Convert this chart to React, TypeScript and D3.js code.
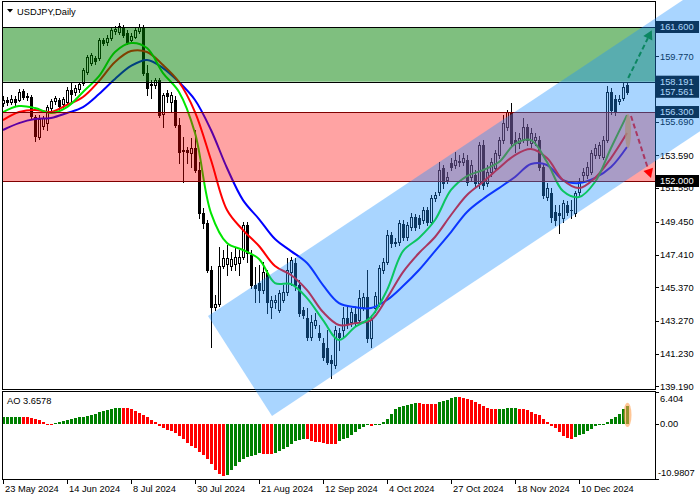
import React from "react";
import * as d3 from "d3";

const W = 700;
const H = 500;

// daily bars from 23 May 2024: open, high, low, close
const candles: [number, number, number, number][] = [
  [156.86, 157.30, 156.67, 157.05], [157.05, 157.24, 156.74, 156.92], [156.92, 157.36, 156.80, 157.11],
  [157.11, 157.30, 156.74, 156.92], [157.05, 157.73, 156.99, 157.55], [157.61, 157.73, 157.11, 157.24],
  [157.24, 157.49, 157.05, 157.30], [157.24, 157.36, 155.93, 156.05], [155.99, 156.11, 154.49, 154.80],
  [154.74, 156.11, 154.62, 155.86], [155.43, 156.05, 155.24, 155.93], [155.61, 156.74, 155.18, 156.61],
  [156.55, 157.11, 156.36, 156.99], [156.99, 157.30, 156.80, 157.17], [157.05, 157.17, 156.43, 156.67],
  [156.80, 157.24, 156.61, 157.11], [156.92, 157.86, 156.80, 157.67], [157.67, 158.17, 156.86, 157.42],
  [157.55, 157.98, 157.36, 157.80], [157.73, 158.17, 157.55, 158.05], [158.11, 159.04, 157.98, 158.92],
  [158.79, 159.85, 158.67, 159.73], [159.36, 159.98, 159.23, 159.85], [159.67, 159.79, 159.29, 159.48],
  [159.67, 160.91, 159.54, 160.79], [160.79, 160.91, 160.48, 160.60], [160.66, 161.10, 160.48, 160.91],
  [160.91, 161.60, 160.79, 161.41], [161.35, 161.66, 161.16, 161.47], [161.29, 161.85, 161.16, 161.66],
  [161.60, 161.72, 160.98, 161.10], [161.23, 161.41, 160.54, 160.66], [160.79, 161.23, 160.73, 161.04],
  [160.98, 161.54, 160.91, 161.41], [161.35, 161.79, 161.23, 161.60], [161.60, 161.72, 158.61, 158.73],
  [158.73, 159.23, 157.36, 157.80], [157.98, 158.30, 157.17, 158.05], [157.98, 158.42, 157.80, 158.30],
  [158.30, 158.42, 155.99, 156.11], [156.18, 157.49, 155.37, 157.36], [157.49, 157.67, 156.92, 157.30],
  [156.92, 157.55, 156.30, 157.36], [157.05, 157.30, 155.37, 155.49], [155.49, 155.93, 153.12, 153.81],
  [153.87, 154.74, 151.94, 153.93], [153.93, 154.12, 153.12, 153.81], [153.74, 154.68, 152.87, 154.06],
  [154.06, 155.18, 152.56, 152.68], [152.68, 153.18, 149.69, 150.00], [150.00, 150.32, 149.07, 149.38],
  [149.38, 149.57, 146.32, 146.45], [146.45, 146.70, 141.65, 144.14], [144.14, 144.89, 143.96, 144.33],
  [144.33, 147.88, 144.20, 146.70], [146.70, 147.70, 146.57, 147.20], [146.82, 148.01, 146.14, 147.20],
  [146.70, 147.57, 146.45, 147.14], [146.82, 147.82, 146.45, 147.26], [146.89, 147.70, 146.14, 147.26],
  [147.26, 149.44, 147.14, 149.26], [149.26, 149.44, 146.95, 147.51], [147.39, 147.70, 145.33, 145.51],
  [145.51, 146.64, 144.45, 145.33], [145.64, 146.76, 144.45, 145.20], [145.20, 146.95, 145.01, 146.32],
  [146.26, 146.45, 143.77, 144.45], [144.14, 144.83, 143.46, 144.58], [144.45, 144.89, 144.08, 144.58],
  [143.96, 145.20, 143.83, 145.01], [144.58, 145.51, 144.45, 145.08], [145.08, 147.20, 144.89, 146.45],
  [146.32, 147.26, 145.51, 147.07], [146.89, 147.20, 145.20, 145.51], [145.51, 145.83, 143.58, 143.77],
  [143.96, 144.14, 143.46, 143.64], [143.46, 144.08, 142.09, 142.27], [142.27, 143.64, 142.09, 143.21],
  [143.02, 143.77, 142.83, 143.33], [142.52, 143.02, 142.09, 142.27], [141.90, 142.21, 140.84, 141.03],
  [141.59, 142.71, 140.59, 140.72], [140.84, 141.15, 139.72, 140.65], [140.53, 142.96, 140.34, 142.71],
  [142.52, 142.83, 141.46, 142.27], [142.71, 144.14, 142.27, 143.46], [143.46, 144.27, 142.83, 143.14],
  [143.21, 144.08, 142.96, 143.83], [143.71, 144.08, 142.96, 143.21], [143.33, 145.20, 143.14, 144.70],
  [144.14, 145.01, 143.96, 144.77], [144.77, 146.45, 141.96, 142.21], [142.21, 143.64, 141.65, 143.33],
  [144.08, 145.08, 143.83, 144.83], [144.39, 146.76, 144.20, 146.57], [146.45, 147.20, 146.26, 146.95],
  [146.95, 148.94, 146.82, 148.63], [148.63, 148.82, 147.88, 148.13], [148.13, 148.45, 147.95, 148.20],
  [148.20, 149.57, 148.01, 149.38], [149.32, 149.57, 148.32, 148.51], [148.51, 149.44, 148.32, 149.26],
  [149.13, 150.00, 148.94, 149.75], [149.75, 149.94, 148.94, 149.13], [149.69, 149.88, 149.07, 149.32],
  [149.57, 150.38, 149.38, 150.19], [150.19, 150.38, 149.26, 149.44], [149.44, 151.13, 149.32, 150.94],
  [150.94, 151.31, 150.75, 151.13], [151.31, 153.18, 151.13, 152.68], [152.81, 153.00, 151.56, 151.87],
  [152.06, 152.56, 151.87, 152.25], [153.12, 153.43, 152.68, 152.87], [153.00, 153.81, 152.81, 153.31],
  [153.25, 153.62, 152.93, 153.18], [153.18, 153.74, 153.00, 153.43], [153.31, 153.62, 151.75, 151.94],
  [152.25, 153.31, 152.06, 153.00], [152.37, 152.68, 151.62, 151.87], [151.87, 154.43, 151.56, 154.24],
  [154.24, 154.55, 151.50, 151.75], [151.87, 153.00, 151.69, 152.56], [152.56, 153.43, 152.31, 153.18],
  [152.81, 153.93, 152.62, 153.74], [153.62, 154.74, 153.43, 154.55], [154.55, 156.11, 154.37, 155.61],
  [155.37, 156.43, 155.18, 156.30], [156.30, 156.86, 154.18, 154.37], [154.55, 155.05, 153.81, 154.37],
  [154.37, 154.99, 154.06, 154.68], [154.55, 155.93, 154.43, 155.37], [155.37, 155.55, 154.24, 154.55],
  [154.37, 155.30, 154.12, 154.99], [154.55, 154.99, 154.24, 154.74], [154.55, 154.80, 152.68, 152.87],
  [152.87, 153.12, 150.94, 151.13], [151.00, 151.87, 150.81, 151.56], [151.25, 151.56, 149.44, 149.75],
  [150.07, 150.50, 149.26, 149.57], [150.00, 150.50, 148.76, 149.88], [149.69, 150.81, 149.44, 150.63],
  [150.50, 150.75, 149.88, 150.07], [150.19, 150.81, 149.69, 150.19], [150.00, 151.37, 149.82, 151.25],
  [151.31, 152.19, 151.13, 151.94], [152.37, 152.81, 152.06, 152.56], [152.37, 153.18, 152.19, 152.87],
  [152.56, 153.93, 152.44, 153.74], [153.62, 154.31, 153.43, 154.06], [153.62, 154.43, 153.43, 154.24],
  [153.50, 154.80, 153.37, 154.55], [154.55, 157.92, 154.43, 157.55], [157.55, 157.80, 156.18, 156.43],
  [157.11, 157.36, 156.11, 156.30], [156.99, 157.36, 156.80, 157.11], [157.17, 158.17, 157.05, 157.86],
  [157.98, 158.11, 157.42, 157.55],
];

// Awesome Oscillator, one value per bar
const aoValues = [
  1.40, 1.42, 1.44, 1.46, 1.50, 1.45, 1.38, 1.25, 1.05, 0.80, 0.50, 0.05, -0.05,
  0.30, 0.45, 0.60, 0.80, 1.00, 1.20, 1.35, 1.50, 1.65, 1.85, 2.10, 2.35, 2.60, 2.85, 3.05, 3.25, 3.30,
  3.28, 3.20, 2.95, 2.65, 2.30, 1.85, 1.35, 0.80, 0.35, -0.30, -0.70, -1.10, -1.40, -1.80, -2.40, -3.00,
  -3.70, -4.30, -4.80, -5.50, -6.20, -7.00, -8.00, -9.20, -10.00, -10.40,
  -10.20, -9.20, -8.30, -7.60, -7.00, -6.60, -6.30, -6.10, -5.80,
  -5.90, -6.00, -6.05,
  -5.80, -5.40, -5.00, -4.50, -3.90, -3.40, -3.10, -2.90,
  -3.00, -3.30, -3.50, -3.60, -3.85, -3.90, -3.95, -4.00,
  -3.40, -3.00, -2.70, -2.20, -1.50, -0.90, -0.50, -0.20,
  -0.30,
  -0.15, 0.10, 0.50, 1.10, 2.10, 3.00, 3.50, 3.70, 3.90, 4.00, 4.15,
  4.12, 4.10, 4.08, 4.05, 4.00,
  4.50, 4.60, 4.80, 5.20, 5.50,
  5.40, 5.30, 5.10, 4.80, 4.50, 4.10, 3.70, 3.30, 3.10, 3.00,
  3.05, 3.10, 3.15, 3.20, 3.25,
  3.10, 3.00, 2.80, 2.50, 2.10, 1.80, 1.10, 0.50, -0.30, -0.70, -1.50, -2.30, -2.70, -2.90,
  -2.50, -2.20, -1.90, -1.30, -0.90, -0.40, -0.10, 0.10, 0.50, 1.00, 1.50, 2.10, 3.00, 3.6578,
];

// moving averages read every 4th bar
const maBars = [
  0, 4, 8, 12, 16, 20, 24, 28, 32, 36, 40, 44, 48, 52, 56, 60, 64, 68, 72, 76,
  80, 84, 88, 92, 96, 100, 104, 108, 112, 116, 120, 124, 128, 132, 136, 140, 144, 148, 152, 156,
];
const maFast = [
  156.30, 156.67, 156.55, 156.24, 156.61, 157.55, 158.54, 160.04, 160.60, 160.29,
  158.73, 157.55, 154.99, 150.00, 148.13, 147.70, 147.14, 145.64, 145.58, 144.70,
  143.33, 142.09, 142.90, 143.52, 145.20, 147.63, 148.45, 149.57, 151.44, 152.31,
  152.68, 153.18, 154.31, 154.55, 153.18, 151.37, 151.00, 151.94, 154.06, 156.11,
];
const maMid = [
  155.80, 156.30, 156.43, 156.30, 156.74, 157.24, 158.23, 159.42, 160.10, 160.04,
  159.23, 158.17, 156.30, 153.31, 150.19, 148.94, 147.95, 146.70, 146.14, 145.20,
  143.83, 143.02, 143.14, 143.33, 144.70, 146.32, 147.51, 148.51, 149.88, 151.13,
  151.94, 152.81, 153.62, 153.99, 153.43, 152.06, 151.56, 152.19, 153.43, 154.99,
];
const maSlow = [
  155.18, 155.61, 155.86, 155.93, 156.24, 156.61, 157.42, 158.36, 159.17, 159.54,
  159.04, 158.17, 157.05, 155.18, 152.81, 150.81, 149.63, 148.38, 147.63, 146.89,
  145.51, 144.39, 144.14, 144.08, 144.58, 145.45, 146.45, 147.63, 148.82, 150.07,
  150.88, 151.56, 152.25, 153.06, 153.00, 152.06, 151.87, 152.19, 152.87, 154.12,
];

const dateLabels = [
  "23 May 2024", "14 Jun 2024", "8 Jul 2024", "30 Jul 2024", "21 Aug 2024",
  "12 Sep 2024", "4 Oct 2024", "27 Oct 2024", "18 Nov 2024", "10 Dec 2024",
];
const dateBars = [0, 16, 32, 48, 64, 80, 96, 112, 128, 144];

const priceTicks = [159.77, 155.69, 153.59, 151.55, 149.45, 147.41, 145.37, 143.27, 141.23, 139.19];
const levelValues = [161.6, 158.191, 157.561, 156.3, 152.0];

const buyZone = [158.191, 161.6];
const sellZone = [152.0, 156.3];

// rising channel corners (bar index, price)
const channelPts: [number, number][] = [
  [51.25, 143.58], [200, 168.26], [200, 159.37], [67.25, 137.35],
];
const upArrow: [number, number][] = [[156.3, 158.42], [162.2, 161.4]];
const downArrow: [number, number][] = [[157.0, 156.05], [162.0, 152.19]];

const aoTop = 6.404;
const aoBottom = -10.9807;

const font = "'Liberation Sans', Arial, sans-serif";

export default function App() {
  const x = d3.scaleLinear().domain([0, 156]).range([3, 627]);
  const y = d3.scaleLinear().domain([152, 161.6]).range([181, 27]);
  const yAo = d3.scaleLinear().domain([aoBottom, aoTop]).range([479, 392]);

  const mainL = 2, mainR = 655, mainT = 1, mainB = 389;
  const aoT = 391, aoB = 479;

  const maLine = d3
    .line<number>()
    .x((_, k) => x(maBars[k]))
    .y((v) => y(v))
    .curve(d3.curveCatmullRom);

  const arrow = (pts: [number, number][], color: string) => {
    const [x1, y1] = [x(pts[0][0]), y(pts[0][1])];
    const [x2, y2] = [x(pts[1][0]), y(pts[1][1])];
    const len = Math.hypot(x2 - x1, y2 - y1);
    const ux = (x2 - x1) / len, uy = (y2 - y1) / len;
    const hl = 9, hw = 5;
    const bx = x2 - ux * hl, by = y2 - uy * hl;
    const head = `${x2},${y2} ${bx - uy * hw},${by + ux * hw} ${bx + uy * hw},${by - ux * hw}`;
    return (
      <g>
        <line x1={x1} y1={y1} x2={bx} y2={by} stroke={color} strokeWidth={2} strokeDasharray="5,3" />
        <polygon points={head} fill={color} />
      </g>
    );
  };

  const last = candles.length - 1;
  const fastEnd = y(maFast[maFast.length - 1]);
  const slowEnd = y(maSlow[maSlow.length - 1]);

  return (
    <svg
      width={W}
      height={H}
      style={{ position: "absolute", left: 0, top: 0, background: "#fff" }}
      fontFamily={font}
    >
      <defs>
        <clipPath id="mainClip">
          <rect x={mainL} y={mainT} width={mainR - mainL} height={mainB - mainT} />
        </clipPath>
        <clipPath id="aoClip">
          <rect x={mainL} y={aoT} width={mainR - mainL} height={aoB - aoT} />
        </clipPath>
      </defs>
      <rect x={0} y={0} width={W} height={H} fill="#fff" />

      {/* AO histogram */}
      <g clipPath="url(#aoClip)" shapeRendering="crispEdges">
        {aoValues.map((v, i) => {
          const cx = Math.round(x(i));
          const up = i === 0 || v >= aoValues[i - 1];
          const y0 = Math.round(yAo(0));
          const y1 = Math.round(yAo(v));
          return (
            <rect
              key={i}
              x={cx - 1}
              y={Math.min(y0, y1)}
              width={3}
              height={Math.max(1, Math.abs(y1 - y0))}
              fill={up ? "#008000" : "#ff0000"}
            />
          );
        })}
      </g>

      {/* candles and averages */}
      <g clipPath="url(#mainClip)">
        <g shapeRendering="crispEdges">
          {candles.map(([o, h, l, c], i) => {
            const cx = Math.round(x(i));
            const top = Math.round(y(Math.max(o, c)));
            const bot = Math.round(y(Math.min(o, c)));
            const yh = Math.round(y(h));
            const yl = Math.round(y(l));
            return (
              <g key={i}>
                <rect x={cx} y={yh} width={1} height={yl - yh + 1} fill="#000" />
                <rect x={cx - 1} y={top} width={3} height={bot - top + 1} fill="#000" />
                {c > o && bot - top >= 2 && (
                  <rect x={cx} y={top + 1} width={1} height={bot - top - 1} fill="#fff" />
                )}
              </g>
            );
          })}
        </g>
        <path d={maLine(maSlow) || ""} fill="none" stroke="#0000ff" strokeWidth={2} />
        <path d={maLine(maMid) || ""} fill="none" stroke="#ff0000" strokeWidth={2} />
        <path d={maLine(maFast) || ""} fill="none" stroke="#00e600" strokeWidth={2} />

        {/* zones */}
        <rect
          x={mainL}
          y={y(buyZone[1])}
          width={mainR - mainL}
          height={y(buyZone[0]) - y(buyZone[1])}
          fill="#008000"
          fillOpacity={0.5}
        />
        <rect
          x={mainL}
          y={y(sellZone[1])}
          width={mainR - mainL}
          height={y(sellZone[0]) - y(sellZone[1])}
          fill="#ff0000"
          fillOpacity={0.36}
        />
        <g shapeRendering="crispEdges">
          <line x1={mainL} x2={mainR} y1={Math.round(y(buyZone[1])) + 0.5} y2={Math.round(y(buyZone[1])) + 0.5} stroke="#000" />
          <line x1={mainL} x2={mainR} y1={Math.round(y(buyZone[0])) + 0.5} y2={Math.round(y(buyZone[0])) + 0.5} stroke="#000" />
          <line x1={mainL} x2={mainR} y1={Math.round(y(sellZone[1])) + 0.5} y2={Math.round(y(sellZone[1])) + 0.5} stroke="#800000" />
          <line x1={mainL} x2={mainR} y1={Math.round(y(sellZone[0])) + 0.5} y2={Math.round(y(sellZone[0])) + 0.5} stroke="#800000" />
        </g>

        <ellipse
          cx={x(last) + 1}
          cy={(fastEnd + slowEnd) / 2}
          rx={3}
          ry={(slowEnd - fastEnd) / 2 + 1}
          fill="#ff9030"
          fillOpacity={0.75}
        />
      </g>

      {/* AO highlight */}
      <ellipse
        cx={x(last) + 0.5}
        cy={(yAo(0) + yAo(aoValues[last])) / 2}
        rx={4}
        ry={(yAo(0) - yAo(aoValues[last])) / 2 + 3}
        fill="#ffa050"
        fillOpacity={0.6}
      />

      {/* frames */}
      <g shapeRendering="crispEdges" fill="none" stroke="#000">
        <rect x={mainL + 0.5} y={mainT + 0.5} width={mainR - mainL} height={mainB - mainT} />
        <rect x={mainL + 0.5} y={aoT + 0.5} width={mainR - mainL} height={aoB - aoT} />
        {priceTicks.map((p) => (
          <line key={p} x1={mainR} x2={mainR + 4} y1={Math.round(y(p)) + 0.5} y2={Math.round(y(p)) + 0.5} />
        ))}
        {[aoTop, 0, aoBottom].map((v) => (
          <line key={v} x1={mainR} x2={mainR + 4} y1={Math.round(yAo(v)) + 0.5} y2={Math.round(yAo(v)) + 0.5} />
        ))}
        {dateBars.map((b) => (
          <line key={b} x1={Math.round(x(b)) + 0.5} x2={Math.round(x(b)) + 0.5} y1={aoB} y2={aoB + 5} />
        ))}
      </g>

      {/* price axis */}
      <g fontSize={9.3} fill="#000">
        {priceTicks.map((p) => (
          <text key={p} x={660} y={y(p)} dy="0.35em">
            {p.toFixed(3)}
          </text>
        ))}
        {levelValues.map((p) => (
          <g key={p}>
            <rect x={656} y={y(p) - 6} width={43} height={12} fill="#000" />
            <text x={660} y={y(p)} dy="0.35em" fill="#fff">
              {p.toFixed(3)}
            </text>
          </g>
        ))}
        <text x={660} y={yAo(aoTop) + 7} dy="0.35em">{aoTop.toFixed(3)}</text>
        <text x={660} y={yAo(0)} dy="0.35em">0.00</text>
        <text x={658} y={yAo(aoBottom) - 6} dy="0.35em">{aoBottom.toFixed(4)}</text>
      </g>

      {/* date axis */}
      <g fontSize={9.3} fill="#000">
        {dateLabels.map((d, k) => (
          <text key={d} x={Math.round(x(dateBars[k])) + 2} y={492}>
            {d}
          </text>
        ))}
      </g>

      {/* titles */}
      <polygon points="7,9 13,9 10,12.5" fill="#000" />
      <text x={17} y={14.5} fontSize={9.3} fill="#000">USDJPY,Daily</text>
      <text x={7} y={404} fontSize={9.3} fill="#000">AO 3.6578</text>

      {/* arrows */}
      {arrow(upArrow, "#008000")}
      {arrow(downArrow, "#ff0000")}

      {/* channel overlay */}
      <polygon
        points={channelPts.map(([b, p]) => `${x(b)},${y(p)}`).join(" ")}
        fill="#1e90ff"
        fillOpacity={0.38}
      />
    </svg>
  );
}
